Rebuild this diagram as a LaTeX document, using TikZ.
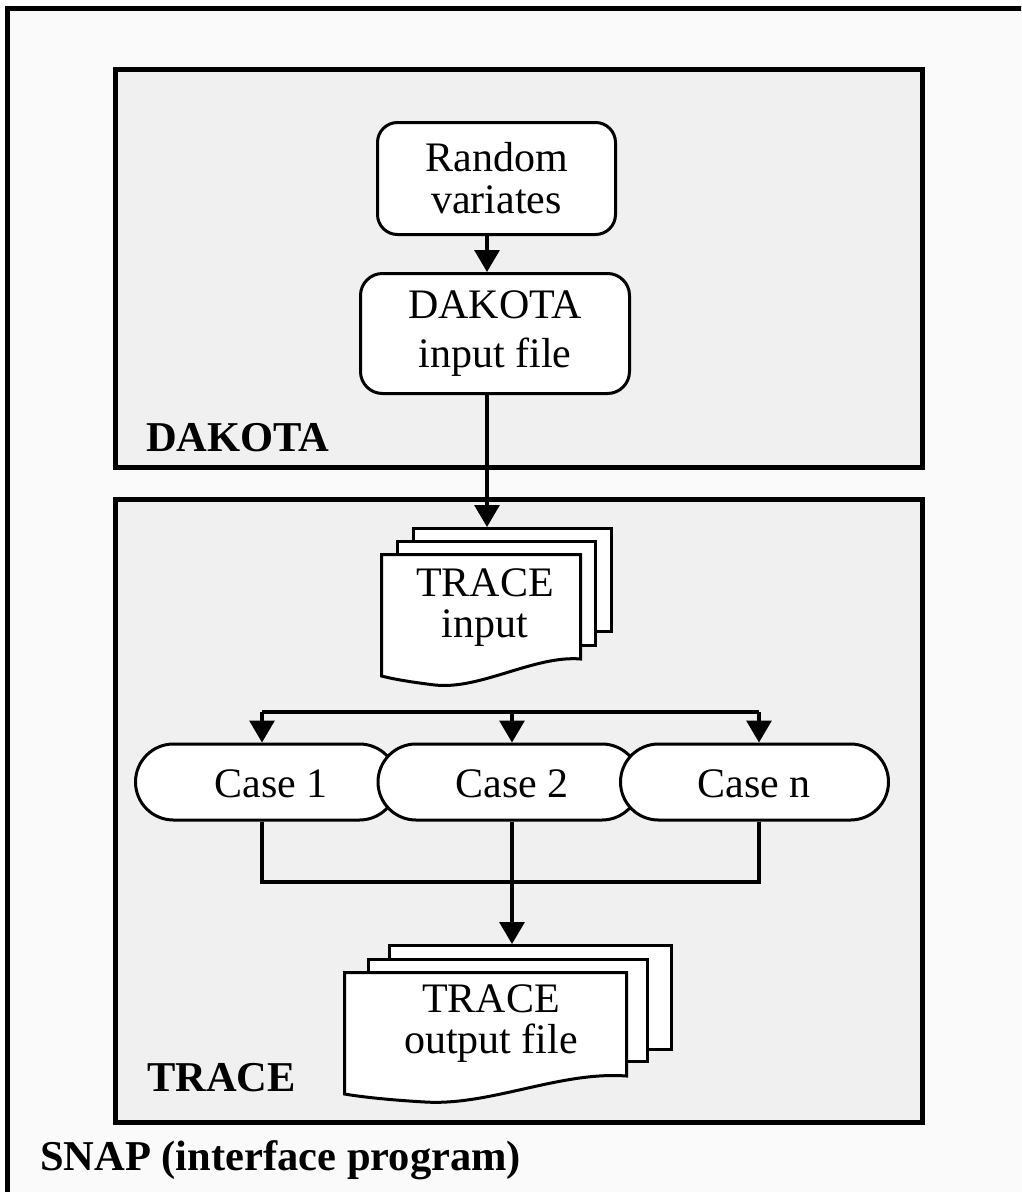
\documentclass[tikz,border=0pt]{standalone}
\usepackage{fontspec}
\setmainfont{Liberation Serif}
\usetikzlibrary{arrows.meta}
\definecolor{outerfill}{HTML}{FAFAFA}
\definecolor{innerfill}{HTML}{F0F0F0}
\begin{document}
\begin{tikzpicture}[x=1pt,y=-1pt,
  frame/.style={draw=black, line width=4.5pt},
  groupbox/.style={draw=black, line width=4.5pt, fill=innerfill, inner sep=0pt},
  procbox/.style={draw, line width=3pt, fill=white, rounded corners=20pt, align=center, inner sep=0pt},
  casebox/.style={draw, line width=3pt, fill=white, rounded corners=38pt, minimum height=76pt, inner sep=0pt},
  page/.style={draw, line width=3pt, fill=white, inner sep=0pt},
  conn/.style={line width=3.2pt},
  arr/.style={conn, -{Triangle[width=25pt,length=22pt]}},
  txt/.style={font=\fontsize{42}{42}\selectfont, align=center},
  bold/.style={font=\fontsize{42.5}{42}\selectfont\bfseries, anchor=base west, inner sep=0pt}
]
\useasboundingbox (0,0) rectangle (1021,1192);
% outer SNAP frame (extends past the right and bottom edges)
\begin{scope}
\clip (0,0) rectangle (1021,1192);
\draw[frame, fill=outerfill] (7.5,8.5) rectangle (1040,1210);
\end{scope}

% group boxes
\node[groupbox, minimum width=807pt, minimum height=398pt] (dakgroup) at (519,268.5) {};
\node[groupbox, minimum width=807pt, minimum height=623pt] (tracegroup) at (519,811) {};

\node[bold] (daklabel) at (146,451) {DAKOTA};
\node[bold] (tracelabel) at (147,1091) {TRACE};
\node[bold] (snaplabel) at (40,1170) {SNAP (interface program)};

% DAKOTA boxes
\node[procbox, txt, minimum width=238pt, minimum height=112pt] (rv) at (496.5,178.5) {Random\\variates};
\node[procbox, txt, font=\fontsize{42}{49}\selectfont, rounded corners=22pt, minimum width=269pt, minimum height=120pt] (dak) at (495,333.5) {DAKOTA\\input file};

\coordinate (col) at (487,0);

% TRACE input stack
\node[page, minimum width=198pt, minimum height=103pt] (tin3) at (512.5,580) {};
\node[page, minimum width=198pt, minimum height=104pt] (tin2) at (496.5,593.5) {};
\draw[page] (381.5,554.5) -- (580.5,554.5) -- (580.5,659)
  .. controls (535,655) and (480,690) .. (435,685)
  .. controls (410,682) and (393,679) .. (381.5,676) -- cycle;
\node[txt, font=\fontsize{42}{41}\selectfont] (tin) at (485,608) {TRACE\\input};

% arrows in DAKOTA
\draw[arr] (rv.south -| col) -- (dak.north -| col);
\draw[arr] (dak.south -| col) -- (tin3.north -| col);

% Cases
\node[casebox, minimum width=262pt] (case1) at (266.5,782) {};
\node[casebox, minimum width=262pt] (case2) at (509,782) {};
\node[casebox, minimum width=268pt] (casen) at (754.5,782) {};
\node[txt] (case1t) at (271,784) {Case 1};
\node[txt] (case2t) at (512,784) {Case 2};
\node[txt] (casent) at (754,784) {Case n};

\coordinate (split) at (512,712);
\coordinate (merge) at (512,882);
\coordinate (x1) at (262,0);
\coordinate (x2) at (512,0);
\coordinate (xn) at (759,0);
\draw[conn] (split -| x1) -- (split -| xn);
\draw[arr] (split -| x1) -- (case1.north -| x1);
\draw[arr] (split -| x2) -- (case2.north -| x2);
\draw[arr] (split -| xn) -- (casen.north -| xn);

\draw[conn] (case1.south -| x1) -- (merge -| x1) -- (merge -| xn) -- (casen.south -| xn);

% TRACE output stack
\node[page, minimum width=282pt, minimum height=104pt] (tout3) at (530.5,997.5) {};
\node[page, minimum width=279pt, minimum height=102pt] (tout2) at (508,1010.5) {};
\draw[page] (344.5,972.5) -- (626.5,972.5) -- (626.5,1076)
  .. controls (560,1071) and (490,1106) .. (425,1102)
  .. controls (390,1100) and (362,1097) .. (344.5,1094) -- cycle;
\node[txt, font=\fontsize{42}{41}\selectfont] (tout) at (491,1024) {TRACE\\output file};

\draw[arr] (case2.south -| x2) -- (tout3.north -| x2);
\end{tikzpicture}
\end{document}
